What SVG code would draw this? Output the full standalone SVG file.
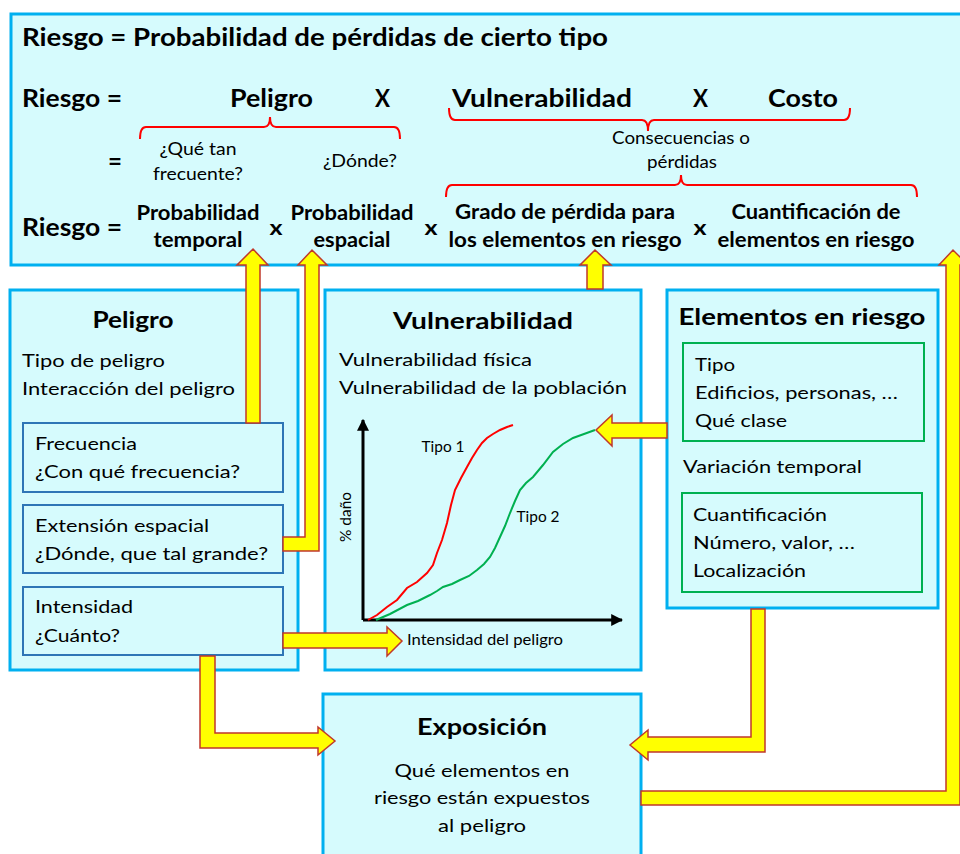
<svg xmlns="http://www.w3.org/2000/svg" width="960" height="854" viewBox="0 0 960 854">
<defs>
<style>
.box{fill:#D6FBFD;stroke:#00B0F0;stroke-width:3}
.sub{fill:#D6FBFD;stroke:#2E75B6;stroke-width:2}
.gbox{fill:none;stroke:#00B050;stroke-width:2}
.arr{fill:#FFFF00;stroke:#C0392B;stroke-width:1.5;stroke-linejoin:miter}
.brace{fill:none;stroke:#FF0000;stroke-width:2}
.axis{fill:none;stroke:#000;stroke-width:3}
text{font-family:Lato,"Open Sans","Liberation Sans",sans-serif;fill:#000}
.t24{font-size:25px;font-weight:bold}
.t22{font-size:23px;font-weight:bold}
.t20{font-size:20.5px;font-weight:bold}
.t17{font-size:18px}
.t16{font-size:16.5px}
.t14{font-size:15px}
.m{text-anchor:middle}
</style>
<marker id="ah" viewBox="0 0 10 10" refX="9" refY="5" markerWidth="4" markerHeight="4" orient="auto" markerUnits="strokeWidth">
<path d="M0,0 L10,5 L0,10 Z" fill="#000"/>
</marker>
</defs>
<rect width="960" height="854" fill="#fff"/>

<g id="riesgo-formula">
<rect x="11" y="14" width="953" height="251" class="box"/>
<text x="22" y="46" class="t24" textLength="586" lengthAdjust="spacingAndGlyphs">Riesgo = Probabilidad de pérdidas de cierto tipo</text>
<text x="22" y="107" class="t24" textLength="100" lengthAdjust="spacingAndGlyphs">Riesgo =</text>
<text x="230" y="107" class="t24" textLength="83" lengthAdjust="spacingAndGlyphs">Peligro</text>
<text x="375" y="107" class="t24" textLength="15" lengthAdjust="spacingAndGlyphs">X</text>
<text x="452" y="107" class="t24" textLength="180" lengthAdjust="spacingAndGlyphs">Vulnerabilidad</text>
<text x="693" y="107" class="t24" textLength="15" lengthAdjust="spacingAndGlyphs">X</text>
<text x="768" y="107" class="t24" textLength="70" lengthAdjust="spacingAndGlyphs">Costo</text>
<path class="brace" d="M140,139 Q140,127 146,127 L264,127 Q270,127 270,117 Q270,127 276,127 L394,127 Q400,127 400,139"/>
<path class="brace" d="M449,108 Q449,120 455,120 L642,120 Q648,120 648,131 Q648,120 654,120 L844,120 Q850,120 850,108"/>
<path class="brace" d="M446,197 Q446,185 452,185 L675,185 Q681,185 681,175 Q681,185 687,185 L911,185 Q917,185 917,197"/>
<text x="108" y="170" class="t24" textLength="14" lengthAdjust="spacingAndGlyphs">=</text>
<text x="198" y="155" class="t16 m" textLength="77" lengthAdjust="spacingAndGlyphs">¿Qué tan</text>
<text x="198" y="180" class="t16 m" textLength="90" lengthAdjust="spacingAndGlyphs">frecuente?</text>
<text x="360" y="167" class="t16 m" textLength="74" lengthAdjust="spacingAndGlyphs">¿Dónde?</text>
<text x="681" y="144" class="t16 m" textLength="138" lengthAdjust="spacingAndGlyphs">Consecuencias o</text>
<text x="682" y="168" class="t16 m" textLength="70" lengthAdjust="spacingAndGlyphs">pérdidas</text>
<text x="22" y="236" class="t24" textLength="100" lengthAdjust="spacingAndGlyphs">Riesgo =</text>
<text x="198" y="220" class="t20 m" textLength="123" lengthAdjust="spacingAndGlyphs">Probabilidad</text>
<text x="198" y="247" class="t20 m" textLength="89" lengthAdjust="spacingAndGlyphs">temporal</text>
<text x="276" y="235" class="t20 m" textLength="13" lengthAdjust="spacingAndGlyphs">x</text>
<text x="352" y="220" class="t20 m" textLength="123" lengthAdjust="spacingAndGlyphs">Probabilidad</text>
<text x="352" y="247" class="t20 m" textLength="77" lengthAdjust="spacingAndGlyphs">espacial</text>
<text x="431" y="235" class="t20 m" textLength="13" lengthAdjust="spacingAndGlyphs">x</text>
<text x="565" y="219" class="t20 m" textLength="220" lengthAdjust="spacingAndGlyphs">Grado de pérdida para</text>
<text x="565" y="247" class="t20 m" textLength="233" lengthAdjust="spacingAndGlyphs">los elementos en riesgo</text>
<text x="700" y="235" class="t20 m" textLength="13" lengthAdjust="spacingAndGlyphs">x</text>
<text x="816" y="219" class="t20 m" textLength="169" lengthAdjust="spacingAndGlyphs">Cuantificación de</text>
<text x="816" y="247" class="t20 m" textLength="197" lengthAdjust="spacingAndGlyphs">elementos en riesgo</text>
</g>

<g id="peligro">
<rect x="10" y="290" width="288" height="380" class="box"/>
<text x="133" y="328" class="t22 m" textLength="81" lengthAdjust="spacingAndGlyphs">Peligro</text>
<text x="22" y="367" class="t17" textLength="143" lengthAdjust="spacingAndGlyphs">Tipo de peligro</text>
<text x="22" y="395" class="t17" textLength="213" lengthAdjust="spacingAndGlyphs">Interacción del peligro</text>
<g id="frecuencia">
<rect x="23" y="423" width="260" height="69" class="sub"/>
<text x="35" y="450" class="t17" textLength="102" lengthAdjust="spacingAndGlyphs">Frecuencia</text>
<text x="35" y="478" class="t17" textLength="205" lengthAdjust="spacingAndGlyphs">¿Con qué frecuencia?</text>
</g>
<g id="extension">
<rect x="23" y="505" width="260" height="68" class="sub"/>
<text x="35" y="532" class="t17" textLength="174" lengthAdjust="spacingAndGlyphs">Extensión espacial</text>
<text x="35" y="560" class="t17" textLength="233" lengthAdjust="spacingAndGlyphs">¿Dónde, que tal grande?</text>
</g>
<g id="intensidad">
<rect x="23" y="587" width="260" height="68" class="sub"/>
<text x="35" y="613" class="t17" textLength="98" lengthAdjust="spacingAndGlyphs">Intensidad</text>
<text x="35" y="642" class="t17" textLength="85" lengthAdjust="spacingAndGlyphs">¿Cuánto?</text>
</g>
</g>

<g id="vulnerabilidad">
<rect x="325" y="290" width="316" height="380" class="box"/>
<text x="483" y="329" class="t22 m" textLength="180" lengthAdjust="spacingAndGlyphs">Vulnerabilidad</text>
<text x="339" y="366" class="t17" textLength="193" lengthAdjust="spacingAndGlyphs">Vulnerabilidad física</text>
<text x="339" y="394" class="t17" textLength="288" lengthAdjust="spacingAndGlyphs">Vulnerabilidad de la población</text>
<path class="axis" d="M363,620 L363,420" marker-end="url(#ah)"/>
<path class="axis" d="M363,620 L622,620" marker-end="url(#ah)"/>
<polyline fill="none" stroke="#FF0000" stroke-width="2" points="368,620 377,615 387,607 397,600 407,588 417,582 427,573 433,565 437,553 442,540 447,523 451,505 455,490 461,478 467,467 472,458 477,450 482,443 487,438 493,434 500,430 507,427 513,425"/>
<polyline fill="none" stroke="#00B050" stroke-width="2" points="376,620 390,614 407,605 418,601 430,595 437,591 443,587 452,584 460,580 469,576 477,570 484,564 490,557 495,548 500,537 505,526 510,513 515,501 520,490 526,483 533,477 543,465 553,452 563,444 573,438 584,434 595,430"/>
<text x="443" y="452" class="t14 m" textLength="43" lengthAdjust="spacingAndGlyphs">Tipo 1</text>
<text x="538" y="522" class="t14 m" textLength="43" lengthAdjust="spacingAndGlyphs">Tipo 2</text>
<text transform="translate(351,517) rotate(-90)" x="0" y="0" class="t14 m" textLength="50" lengthAdjust="spacingAndGlyphs">% daño</text>
<text x="407" y="645" class="t14" textLength="156" lengthAdjust="spacingAndGlyphs">Intensidad del peligro</text>
</g>

<g id="elementos">
<rect x="667" y="290" width="271" height="318" class="box"/>
<text x="802" y="325" class="t22 m" textLength="247" lengthAdjust="spacingAndGlyphs">Elementos en riesgo</text>
<g id="tipo">
<rect x="683" y="343" width="241" height="98" class="gbox"/>
<text x="695" y="371" class="t17" textLength="40" lengthAdjust="spacingAndGlyphs">Tipo</text>
<text x="695" y="399" class="t17" textLength="203" lengthAdjust="spacingAndGlyphs">Edificios, personas, …</text>
<text x="695" y="427" class="t17" textLength="92" lengthAdjust="spacingAndGlyphs">Qué clase</text>
</g>
<text x="683" y="473" class="t17" textLength="179" lengthAdjust="spacingAndGlyphs">Variación temporal</text>
<g id="cuantificacion">
<rect x="682" y="493" width="240" height="99" class="gbox"/>
<text x="693" y="521" class="t17" textLength="134" lengthAdjust="spacingAndGlyphs">Cuantificación</text>
<text x="693" y="549" class="t17" textLength="162" lengthAdjust="spacingAndGlyphs">Número, valor, …</text>
<text x="693" y="577" class="t17" textLength="113" lengthAdjust="spacingAndGlyphs">Localización</text>
</g>
</g>

<g id="exposicion">
<rect x="323" y="694" width="318" height="175" class="box"/>
<text x="482" y="735" class="t22 m" textLength="130" lengthAdjust="spacingAndGlyphs">Exposición</text>
<text x="482" y="777" class="t17 m" textLength="175" lengthAdjust="spacingAndGlyphs">Qué elementos en</text>
<text x="482" y="804" class="t17 m" textLength="216" lengthAdjust="spacingAndGlyphs">riesgo están expuestos</text>
<text x="482" y="832" class="t17 m" textLength="88" lengthAdjust="spacingAndGlyphs">al peligro</text>
</g>

<g id="connectors">
<polygon class="arr" points="246,423 246,265 237,265 253,249 268,265 260,265 260,423"/>
<polygon class="arr" points="283,537 305,537 305,265 298,265 312,250 327,265 319,265 319,551 283,551"/>
<polygon class="arr" points="283,633 387,633 387,627 402,641 387,656 387,648 283,648"/>
<polygon class="arr" points="200,656 215,656 215,733 318,733 318,727 335,741 318,755 318,748 200,748"/>
<polygon class="arr" points="587,289 587,265 580,265 595,250 611,265 603,265 603,289"/>
<polygon class="arr" points="667,423 612,423 612,415 596,430 612,446 612,438 667,438"/>
<polygon class="arr" points="751,609 765,609 765,752 648,752 648,760 630,745 648,730 648,737 751,737"/>
<polygon class="arr" points="641,791 946,791 946,265 939,265 953,250 968,265 960,265 960,805 641,805"/>
</g>
</svg>
